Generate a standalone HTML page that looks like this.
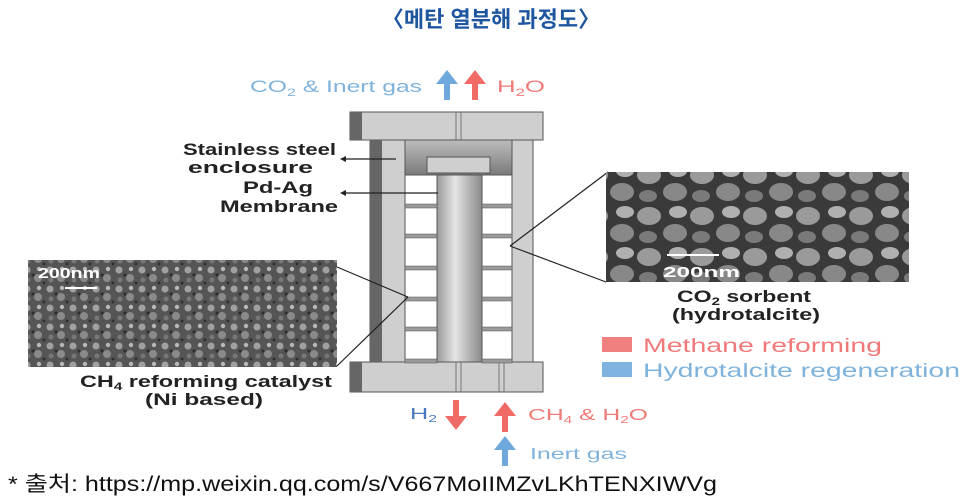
<!DOCTYPE html>
<html><head><meta charset="utf-8"><style>
html,body{margin:0;padding:0;background:#fff;width:972px;height:502px;overflow:hidden}
svg{display:block}
text{font-family:"Liberation Sans","Noto Sans CJK KR",sans-serif}
</style></head><body>
<svg width="972" height="502" viewBox="0 0 972 502" xmlns="http://www.w3.org/2000/svg">
<defs>
<linearGradient id="tube" x1="0" x2="1"><stop offset="0" stop-color="#9a9a9a"/><stop offset="0.4" stop-color="#e4e4e4"/><stop offset="1" stop-color="#8a8a8a"/></linearGradient>
<linearGradient id="cap" x1="0" x2="0" y1="0" y2="1"><stop offset="0" stop-color="#bdbdbd"/><stop offset="1" stop-color="#7a7a7a"/></linearGradient>
<pattern id="sem1" width="23" height="19" patternUnits="userSpaceOnUse"><rect width="23" height="19" fill="#555"/><circle cx="4" cy="4" r="3.5" fill="#a0a0a0"/><circle cx="15" cy="12" r="4" fill="#8a8a8a"/><circle cx="16" cy="3" r="2.2" fill="#b8b8b8"/><circle cx="5" cy="14" r="2.5" fill="#777"/><circle cx="10" cy="9" r="1.6" fill="#2e2e2e"/><circle cx="21" cy="17" r="1.5" fill="#303030"/></pattern>
<pattern id="sem2" width="53" height="41" patternUnits="userSpaceOnUse"><rect width="53" height="41" fill="#3a3a3a"/><ellipse cx="13" cy="11" rx="12" ry="9" fill="#9a9a9a"/><ellipse cx="39" cy="28" rx="12" ry="9" fill="#888"/><ellipse cx="42" cy="7" rx="9" ry="6" fill="#b0b0b0"/><ellipse cx="12" cy="32" rx="9" ry="6" fill="#7a7a7a"/></pattern>
</defs>
<text x="491" y="27" text-anchor="middle" font-size="22" font-weight="bold" fill="#1e56a0">〈메탄 열분해 과정도〉</text>

<text x="250" y="92" font-size="17" fill="#7fb3dc" textLength="172" lengthAdjust="spacingAndGlyphs">CO<tspan font-size="11" dy="4">2</tspan><tspan dy="-4"> &amp; Inert gas</tspan></text>
<path d="M444 100 v-16 h-8 l11 -14 l11 14 h-8 v16z" fill="#6fa8dc"/>
<path d="M472 100 v-16 h-8 l11 -14 l11 14 h-8 v16z" fill="#f06a66"/>
<text x="497" y="92" font-size="17" fill="#f07a76" textLength="48" lengthAdjust="spacingAndGlyphs">H<tspan font-size="11" dy="4">2</tspan><tspan dy="-4">O</tspan></text>

<g stroke="#555" stroke-width="1">
<rect x="350" y="112" width="193" height="28" fill="#cfcfcf"/>
<rect x="350" y="362" width="193" height="30" fill="#cfcfcf"/>
<rect x="370" y="140" width="35" height="222" fill="#cfcfcf"/>
<rect x="512" y="140" width="21" height="222" fill="#cfcfcf"/>
<rect x="405" y="140" width="107" height="222" fill="#fff"/>
<rect x="405" y="140" width="107" height="35" fill="url(#cap)"/>
<rect x="427" y="157" width="63" height="16" fill="#cfcfcf"/>
<rect x="437" y="175" width="45" height="187" fill="url(#tube)"/>
</g>
<rect x="350" y="112" width="12" height="28" fill="#666"/>
<rect x="350" y="362" width="12" height="30" fill="#666"/>
<rect x="370" y="140" width="12" height="222" fill="#666"/>
<g stroke="#777" stroke-width="1">
<line x1="456" y1="112" x2="456" y2="140"/><line x1="461" y1="112" x2="461" y2="140"/>
<line x1="456" y1="362" x2="456" y2="392"/><line x1="461" y1="362" x2="461" y2="392"/>
<line x1="499" y1="362" x2="499" y2="392"/><line x1="504" y1="362" x2="504" y2="392"/>
</g>
<g fill="#9a9a9a" stroke="#555" stroke-width="0.5">
<rect x="405" y="204" width="32" height="4"/><rect x="482" y="204" width="30" height="4"/>
<rect x="405" y="234" width="32" height="4"/><rect x="482" y="234" width="30" height="4"/>
<rect x="405" y="266" width="32" height="4"/><rect x="482" y="266" width="30" height="4"/>
<rect x="405" y="297" width="32" height="4"/><rect x="482" y="297" width="30" height="4"/>
<rect x="405" y="327" width="32" height="4"/><rect x="482" y="327" width="30" height="4"/>
<rect x="405" y="359" width="32" height="4"/><rect x="482" y="359" width="30" height="4"/>
</g>

<g font-size="17" font-weight="bold" fill="#222">
<text x="183" y="155" textLength="153" lengthAdjust="spacingAndGlyphs">Stainless steel</text>
<text x="188" y="173" textLength="125" lengthAdjust="spacingAndGlyphs">enclosure</text>
<text x="243" y="193" textLength="70" lengthAdjust="spacingAndGlyphs">Pd-Ag</text>
<text x="220" y="212" textLength="118" lengthAdjust="spacingAndGlyphs">Membrane</text>
</g>
<g stroke="#222" stroke-width="1.2">
<line x1="342" y1="159" x2="396" y2="159"/><line x1="342" y1="193" x2="438" y2="193"/>
<line x1="337" y1="267" x2="408" y2="297"/><line x1="337" y1="366" x2="408" y2="297"/>
<line x1="510" y1="246" x2="608" y2="172"/><line x1="510" y1="246" x2="606" y2="282"/>
</g>
<path d="M340 159 l6 -3 v6z M340 193 l6 -3 v6z" fill="#222"/>

<rect x="28" y="260" width="309" height="107" fill="url(#sem1)"/>
<text x="38" y="278" font-size="15" fill="#fff" font-weight="bold" textLength="62" lengthAdjust="spacingAndGlyphs">200nm</text>
<rect x="65" y="287" width="32" height="2" fill="#fff"/>
<text x="80" y="387" font-size="17" font-weight="bold" fill="#222" textLength="252" lengthAdjust="spacingAndGlyphs">CH<tspan font-size="11" dy="3">4</tspan><tspan dy="-3"> reforming catalyst</tspan></text>
<text x="145" y="405" font-size="17" font-weight="bold" fill="#222" textLength="118" lengthAdjust="spacingAndGlyphs">(Ni based)</text>

<rect x="606" y="172" width="303" height="110" fill="url(#sem2)"/>
<rect x="667" y="254" width="52" height="2" fill="#fff"/>
<text x="663" y="277" font-size="15" fill="#fff" font-weight="bold" textLength="77" lengthAdjust="spacingAndGlyphs">200nm</text>
<text x="677" y="302" font-size="17" font-weight="bold" fill="#222" textLength="134" lengthAdjust="spacingAndGlyphs">CO<tspan font-size="11" dy="3">2</tspan><tspan dy="-3"> sorbent</tspan></text>
<text x="672" y="320" font-size="17" font-weight="bold" fill="#222" textLength="148" lengthAdjust="spacingAndGlyphs">(hydrotalcite)</text>

<rect x="602" y="337" width="30" height="15" fill="#f08080"/>
<text x="643" y="352" font-size="19" fill="#f07a7a" textLength="239" lengthAdjust="spacingAndGlyphs">Methane reforming</text>
<rect x="602" y="362" width="30" height="15" fill="#7fb3e0"/>
<text x="643" y="377" font-size="19" fill="#7fb3dc" textLength="317" lengthAdjust="spacingAndGlyphs">Hydrotalcite regeneration</text>

<text x="410" y="419" font-size="16" fill="#4a7bc0" textLength="27" lengthAdjust="spacingAndGlyphs">H<tspan font-size="10" dy="3">2</tspan></text>
<path d="M453 400 v16 h-8 l11 14 l11 -14 h-8 v-16z" fill="#f06a66"/>
<path d="M502 432 v-16 h-8 l11 -14 l11 14 h-8 v16z" fill="#f06a66"/>
<text x="528" y="420" font-size="16" fill="#f07a76" textLength="120" lengthAdjust="spacingAndGlyphs">CH<tspan font-size="10" dy="3">4</tspan><tspan dy="-3"> &amp; H</tspan><tspan font-size="10" dy="3">2</tspan><tspan dy="-3">O</tspan></text>
<path d="M502 466 v-16 h-8 l11 -14 l11 14 h-8 v16z" fill="#6fa8dc"/>
<text x="530" y="459" font-size="16" fill="#7fb3dc" textLength="97" lengthAdjust="spacingAndGlyphs">Inert gas</text>

<text x="8" y="491" font-size="21" fill="#111" textLength="709" lengthAdjust="spacingAndGlyphs">* 출처: https://mp.weixin.qq.com/s/V667MoIIMZvLKhTENXIWVg</text>
</svg>
</body></html>
